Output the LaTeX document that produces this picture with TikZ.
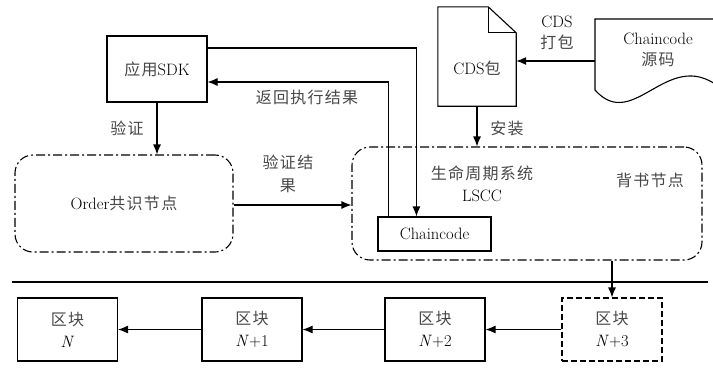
\documentclass[tikz,border=0pt]{standalone}
\usepackage{fontspec}
\newfontfamily\cjkfont[Scale=0.97,LetterSpace=8]{Noto Sans CJK SC}
\newcommand\cjk{\cjkfont\color{black!72}}
\usetikzlibrary{arrows.meta,calc}
\tikzset{
	box/.style={draw, line width=1.1pt, minimum width=100pt, minimum height=66pt, align=center, inner sep=0pt},
	dashbox/.style={box, dash pattern=on 6pt off 3pt},
	cloud/.style={draw, line width=1.1pt, rounded corners=18pt, dash pattern=on 9pt off 3pt on 2pt off 3pt, inner sep=0pt},
	arr/.style={line width=1.1pt, -{Latex[length=10pt,width=8pt]}},
	line/.style={line width=1.1pt},
	txt/.style={align=center, inner sep=0pt}
}

\begin{document}
\begin{tikzpicture}[x=1pt, y=-1pt, font=\fontsize{16.5}{20}\selectfont]
		%%%%% START %%%%%
		\useasboundingbox (0, 0) rectangle (713, 368);
		
		\node[box] (sdk) at (157, 69) {{\cjk 应用}SDK};
		\node[cloud, minimum width=218pt, minimum height=97pt] (order) at (124, 203.5) {Order{\cjk 共识节点}};
		\node[cloud, minimum width=350pt, minimum height=113pt] (endorse) at (527, 203.5) {};
		\node[box, minimum width=113pt, minimum height=34pt] (cc) at (434.5, 234) {Chaincode};
		
		\node[txt] (lscc) at (482, 184) {{\cjk 生命周期系统}\\[2pt]LSCC};
		\node[txt] (peer) at (650, 180) {\cjk 背书节点};
		
		% CDS package
		\node[minimum width=78pt, minimum height=99pt, inner sep=0pt] (cds) at (477, 56.5) {};
		\draw[line] (cds.south west) -- (cds.north west) -- ([xshift=-28pt]cds.north east)
			-- ([yshift=-26pt]cds.north east) -- (cds.south east) -- cycle;
		\draw[line] ([xshift=-28pt]cds.north east) -- ([xshift=-28pt, yshift=-26pt]cds.north east)
			-- ([yshift=-26pt]cds.north east);
		\node[txt] (cdstext) at (477, 68) {CDS{\cjk 包}};
		
		% chaincode source
		\draw[line] (595, 90) -- (595, 19) -- (725, 19) -- (725, 92)
			.. controls (670, 40) and (635, 135) .. (595, 90);
		\node[txt] (src) at (658, 50) {Chaincode\\[1pt]{\cjk 源码}};
		\coordinate (srcin) at (595, 61);
		
		\draw[arr] (srcin) -- (srcin -| cds.east);
		\node[txt] (pack) at (557, 33) {CDS\\[1pt]{\cjk 打包}};
		
		\draw[arr] (cds.south) -- (cds.south |- endorse.north);
		\node[txt] (install) at (507, 128) {\cjk 安装};
		
		\draw[arr] ([yshift=21pt]sdk.east) -| ([xshift=39pt]cc.north west);
		\draw[arr] ([xshift=11pt]cc.north west) |- ([yshift=-13pt]sdk.east);
		\node[txt] (ret) at (307, 97) {\cjk 返回执行结果};
		
		\draw[arr] (sdk.south) -- (sdk.south |- order.north);
		\node[txt] (verify) at (127, 128) {\cjk 验证};
		
		\draw[arr] ([yshift=-1.5pt]order.east) -- ([yshift=-1.5pt]order.east -| endorse.west);
		\node[txt] (vres) at (288, 174) {{\cjk 验证结}\\[3pt]{\cjk 果}};
		
		% chain
		\coordinate (l1) at (12, 282);
		\coordinate (l2) at (708, 282);
		\draw[line] (l1) -- (l2);
		
		\node[box, minimum height=63pt] (b0) at (67.5, 329.5) {{\cjk 区块}\\[2pt]\textit{N}};
		\node[box, minimum height=63pt] (b1) at (252, 329.5) {{\cjk 区块}\\[2pt]\textit{N}+1};
		\node[box, minimum height=63pt] (b2) at (435, 329.5) {{\cjk 区块}\\[2pt]\textit{N}+2};
		\node[dashbox, minimum height=63pt] (b3) at (612, 329.5) {{\cjk 区块}\\[2pt]\textit{N}+3};
		
		\draw[arr] (b3.north |- endorse.south) -- (b3.north);
		\draw[arr] (b3) -- (b2);
		\draw[arr] (b2) -- (b1);
		\draw[arr] (b1) -- (b0);
		
		%%%%% END %%%%%
	\end{tikzpicture}
\end{document}
